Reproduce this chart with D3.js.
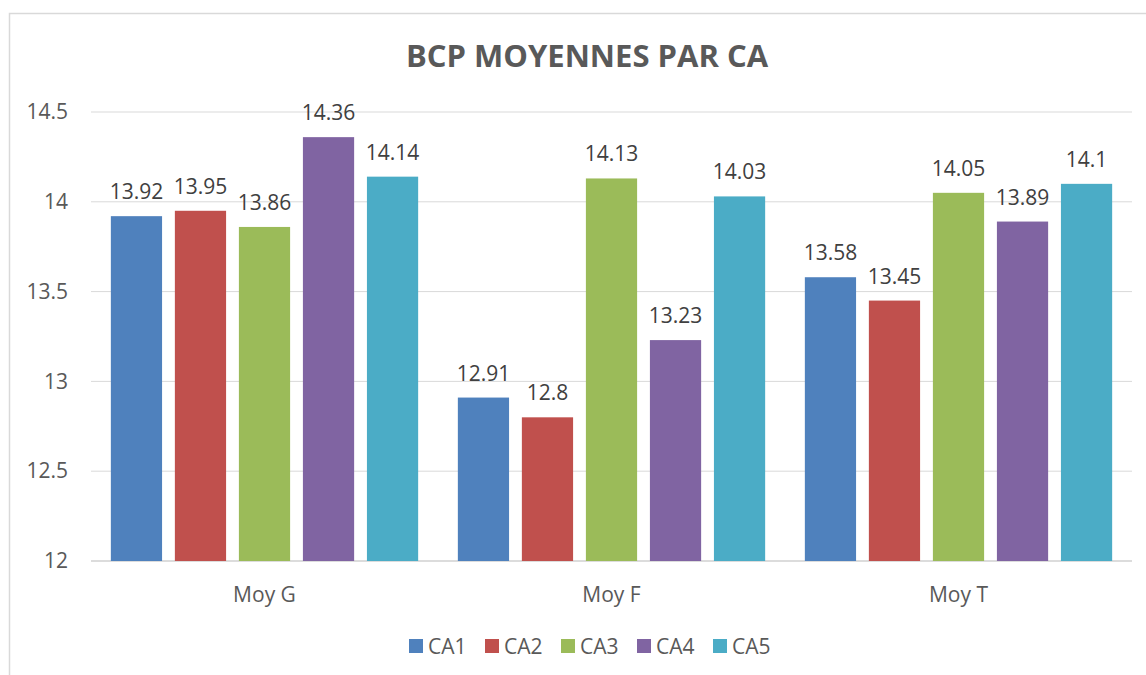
<!DOCTYPE html>
<html>
<head>
<meta charset="utf-8">
<script src="https://cdn.jsdelivr.net/npm/d3@7"></script>
<style>
  body { margin: 0; background: #fff; }
  text { font-family: "Open Sans", "Liberation Sans", sans-serif; }
</style>
</head>
<body>
<div id="viz"></div>
<script>
var categories = ['Moy G', 'Moy F', 'Moy T'];
var series = ['CA1', 'CA2', 'CA3', 'CA4', 'CA5'];
var colors = ['#4f81bd', '#c0504d', '#9bbb59', '#8064a2', '#4bacc6'];
var CA1 = [13.92, 12.91, 13.58];
var CA2 = [13.95, 12.8, 13.45];
var CA3 = [13.86, 14.13, 14.05];
var CA4 = [14.36, 13.23, 13.89];
var CA5 = [14.14, 14.03, 14.1];
var yTicks = [12, 12.5, 13, 13.5, 14, 14.5];

var values = [CA1, CA2, CA3, CA4, CA5];

var width = 1146, height = 675;
var margin = {top: 112, bottom: 114, left: 91, right: 14};

var svg = d3.select('#viz').append('svg')
  .attr('width', width)
  .attr('height', height);

// chart border
svg.append('rect')
  .attr('x', 9.5).attr('y', 13.5)
  .attr('width', 1150).attr('height', 700)
  .attr('fill', '#fff')
  .attr('stroke', '#d9d9d9')
  .attr('stroke-width', 1.5);

svg.append('text')
  .attr('x', 587).attr('y', 67)
  .attr('text-anchor', 'middle')
  .attr('font-size', 31)
  .attr('font-weight', 'bold')
  .attr('fill', '#595959')
  .text('BCP MOYENNES PAR CA');

var x0 = d3.scaleBand()
  .domain(categories)
  .range([margin.left, width - margin.right]);

var x1 = d3.scaleBand()
  .domain(series)
  .range([0, x0.bandwidth()])
  .paddingInner(0.2)
  .paddingOuter(0.31);

var y = d3.scaleLinear()
  .domain([12, 14.5])
  .range([height - margin.bottom, margin.top]);

// gridlines
svg.append('g').selectAll('line').data(yTicks)
  .enter().append('line')
  .attr('x1', margin.left).attr('x2', width - margin.right)
  .attr('y1', function(d) { return y(d); })
  .attr('y2', function(d) { return y(d); })
  .attr('stroke', function(d) { return d === 12 ? '#d0d0d0' : '#d9d9d9'; })
  .attr('stroke-width', function(d) { return d === 12 ? 1.5 : 1; });

var yAxis = d3.axisLeft(y).tickValues(yTicks).tickSize(0).tickPadding(0)
  .tickFormat(function(d) { return d; });

var yg = svg.append('g')
  .attr('transform', 'translate(68,0)')
  .call(yAxis);
yg.select('.domain').remove();
yg.selectAll('text')
  .attr('font-size', 21)
  .attr('fill', '#595959')
  .style('font-family', '"Open Sans", "Liberation Sans", sans-serif');

var groups = svg.append('g').selectAll('g').data(categories)
  .enter().append('g')
  .attr('transform', function(d) { return 'translate(' + x0(d) + ',0)'; });

groups.selectAll('rect')
  .data(function(d, i) { return series.map(function(s, j) { return {s: s, v: values[j][i], c: colors[j]}; }); })
  .enter().append('rect')
  .attr('x', function(d) { return x1(d.s); })
  .attr('width', x1.bandwidth())
  .attr('y', function(d) { return y(d.v); })
  .attr('height', function(d) { return y(12) - y(d.v); })
  .attr('fill', function(d) { return d.c; });

groups.selectAll('text.lbl')
  .data(function(d, i) { return series.map(function(s, j) { return {s: s, v: values[j][i]}; }); })
  .enter().append('text')
  .attr('class', 'lbl')
  .attr('x', function(d) { return x1(d.s) + x1.bandwidth() / 2; })
  .attr('y', function(d) { return y(d.v) - 17; })
  .attr('text-anchor', 'middle')
  .attr('font-size', 21)
  .attr('fill', '#404040')
  .text(function(d) { return d.v; });

// category labels
svg.append('g').selectAll('text').data(categories)
  .enter().append('text')
  .attr('x', function(d) { return x0(d) + x0.bandwidth() / 2; })
  .attr('y', 602)
  .attr('text-anchor', 'middle')
  .attr('font-size', 21)
  .attr('fill', '#595959')
  .text(function(d) { return d; });

// legend
var legX = [409, 485, 561, 637, 713];
var leg = svg.append('g').selectAll('g').data(series)
  .enter().append('g')
  .attr('transform', function(d, i) { return 'translate(' + legX[i] + ',639)'; });
leg.append('rect')
  .attr('width', 14).attr('height', 14)
  .attr('fill', function(d, i) { return colors[i]; });
leg.append('text')
  .attr('x', 19).attr('y', 15)
  .attr('font-size', 21)
  .attr('fill', '#595959')
  .text(function(d) { return d; });
</script>
</body>
</html>
